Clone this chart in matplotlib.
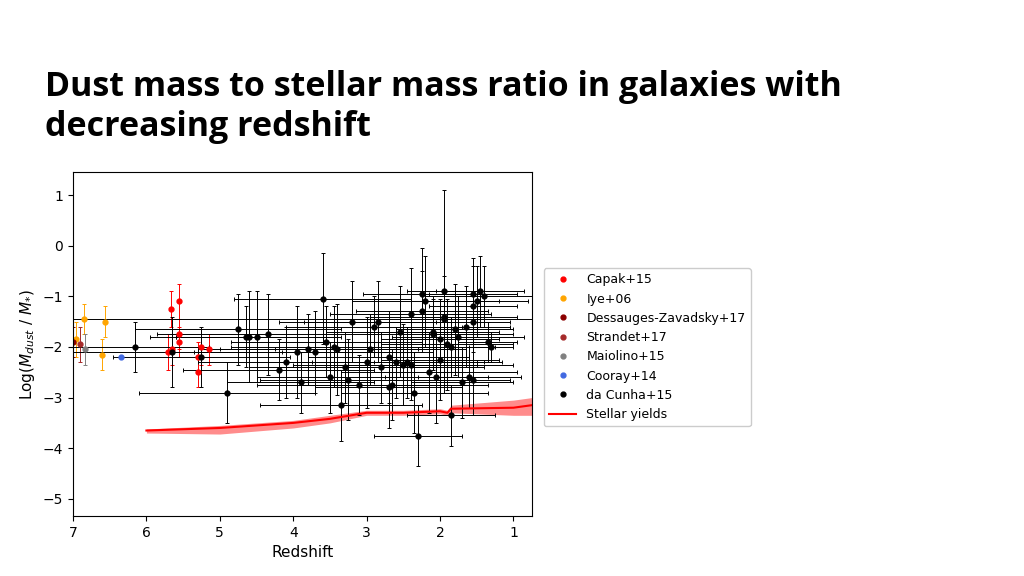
import matplotlib
matplotlib.use("Agg")
import matplotlib.pyplot as plt
from matplotlib.lines import Line2D
import numpy as np

# da Cunha+15: z, log ratio, z-err, y-err
dc_z = [6.15,5.25,5.65,4.9,4.75,4.65,4.6,4.5,4.35,4.2,4.1,3.95,3.9,3.8,3.7,3.6,3.55,3.5,3.45,3.4,3.35,3.3,3.25,3.2,3.1,3.0,2.95,2.9,2.85,2.8,2.7,2.65,2.6,2.55,2.5,2.45,2.4,2.35,2.3,2.25,2.25,2.2,2.15,2.1,2.05,2.0,1.95,1.9,1.85,1.8,1.75,1.7,1.65,1.6,1.55,1.5,1.45,1.4,1.35,1.3,1.95,1.85,1.55,1.55,2.0,2.4,2.7,2.1,1.55,1.95]
dc_y = [-2.0,-2.2,-2.1,-2.9,-1.65,-1.8,-1.8,-1.8,-1.75,-2.45,-2.3,-2.1,-2.7,-2.05,-2.1,-1.05,-1.9,-2.6,-2.0,-2.05,-3.15,-2.4,-2.65,-1.5,-2.75,-2.3,-2.05,-1.6,-1.5,-2.4,-2.2,-2.75,-2.3,-1.7,-2.35,-2.3,-1.35,-2.9,-3.75,-0.95,-1.3,-1.1,-2.5,-1.75,-2.6,-1.85,-1.4,-1.95,-2.0,-1.65,-1.8,-2.7,-1.6,-2.6,-1.2,-1.1,-0.9,-1.0,-1.9,-2.0,-0.9,-3.35,-2.65,-0.95,-2.25,-2.35,-2.8,-1.7,-1.5,-1.45]
dc_zerr = [1.0,1.2,1.5,1.2,1.4,1.3,1.0,1.1,1.5,1.3,1.2,1.4,1.0,1.5,1.6,1.2,1.3,1.0,1.4,1.6,1.1,1.3,1.2,1.0,1.4,1.5,1.3,1.2,1.0,1.4,1.1,1.3,1.2,1.0,1.5,1.3,1.1,1.0,0.6,0.8,0.9,1.0,1.2,1.1,0.7,0.8,1.0,0.9,0.6,0.8,0.9,0.7,0.6,0.7,0.6,0.7,0.6,0.8,0.4,0.3,0.5,0.6,0.5,0.6,0.8,0.9,1.0,0.9,0.5,6.0]
dc_yerr = [0.5,0.6,0.7,0.6,0.7,0.6,0.9,0.9,0.8,0.6,0.7,0.9,0.6,0.7,0.8,0.9,0.7,0.7,0.8,0.9,0.7,0.7,0.8,0.8,0.6,0.9,0.7,0.6,0.8,0.7,0.9,0.7,0.7,0.9,0.8,0.7,0.9,0.8,0.6,0.9,0.8,0.9,0.8,0.7,0.9,0.8,0.8,0.9,0.6,0.9,0.8,0.7,0.8,0.6,0.8,0.7,0.7,0.6,0.4,0.3,2.0,0.6,0.7,0.7,0.8,0.7,0.8,0.7,0.6,0.0]

capak_z = [5.67,5.55,5.55,5.55,5.65,5.7,5.3,5.3,5.25,5.15]
capak_y = [-1.25,-1.1,-1.9,-1.75,-2.05,-2.1,-2.5,-2.2,-2.0,-2.05]
capak_yerr = [0.35,0.35,0.3,0.3,0.3,0.35,0.3,0.3,0.35,0.3]
iye_z = [6.96,6.85,6.57,6.6]
iye_y = [-1.85,-1.45,-1.5,-2.15]
iye_yerr = [0.35,0.3,0.3,0.3]
dz_z, dz_y = [7.0], [-1.9]
st_z, st_y = [6.9], [-1.95]
mai_z, mai_y = [6.83], [-2.05]
coo_z, coo_y = [6.34], [-2.2]

yield_z = [6.0,5.0,4.0,3.5,3.0,2.5,2.0,1.9,1.85,1.0,0.75]
yield_y = [-3.65,-3.6,-3.5,-3.42,-3.3,-3.3,-3.27,-3.3,-3.22,-3.2,-3.15]
yield_lo = [-3.7,-3.72,-3.6,-3.5,-3.35,-3.35,-3.32,-3.35,-3.3,-3.35,-3.35]
yield_hi = [-3.62,-3.55,-3.45,-3.35,-3.25,-3.25,-3.22,-3.25,-3.15,-3.05,-3.0]

fig = plt.figure(figsize=(10.24,5.76), dpi=100)
fig.text(0.044, 0.75, "Dust mass to stellar mass ratio in galaxies with\ndecreasing redshift",
         fontsize=24.5, fontweight='bold', family='Open Sans', va='bottom', linespacing=1.25)
ax = fig.add_axes([0.0713,0.104,0.448,0.597])
ek = dict(fmt='o', ms=3.5, elinewidth=0.7, capsize=1.2, capthick=0.7)
series = [
    (capak_z, capak_y, capak_yerr, None, 'red', 'Capak+15'),
    (iye_z, iye_y, iye_yerr, None, 'orange', 'Iye+06'),
    (dz_z, dz_y, 0.3, None, 'darkred', 'Dessauges-Zavadsky+17'),
    (st_z, st_y, 0.35, None, 'brown', 'Strandet+17'),
    (mai_z, mai_y, 0.3, None, 'grey', 'Maiolino+15'),
    (coo_z, coo_y, None, None, 'royalblue', 'Cooray+14'),
    (dc_z, dc_y, dc_yerr, dc_zerr, 'black', 'da Cunha+15'),
]
handles = []
for z, y, ye, xe, c, lab in series:
    ax.errorbar(z, y, yerr=ye, xerr=xe, color=c, ecolor=c, **ek)
    handles.append(Line2D([], [], marker='o', ls='none', ms=3.5, color=c, label=lab))
ax.fill_between(yield_z, yield_lo, yield_hi, color='red', alpha=0.45, lw=0)
ln, = ax.plot(yield_z, yield_y, color='red', lw=1.5, label='Stellar yields')
handles.append(ln)
ax.set_xlim(7, 0.75)
ax.set_ylim(-5.34, 1.45)
ax.set_xticks([7,6,5,4,3,2,1])
ax.set_xlabel('Redshift', fontsize=11)
ax.set_ylabel(r'Log($M_{dust}$ / $M_{*}$)', fontsize=11)
fig.legend(handles=handles, loc='upper left', bbox_to_anchor=(0.525,0.545), fontsize=9,
           framealpha=1, handlelength=2.2)
fig.savefig('out.png', dpi=100)
